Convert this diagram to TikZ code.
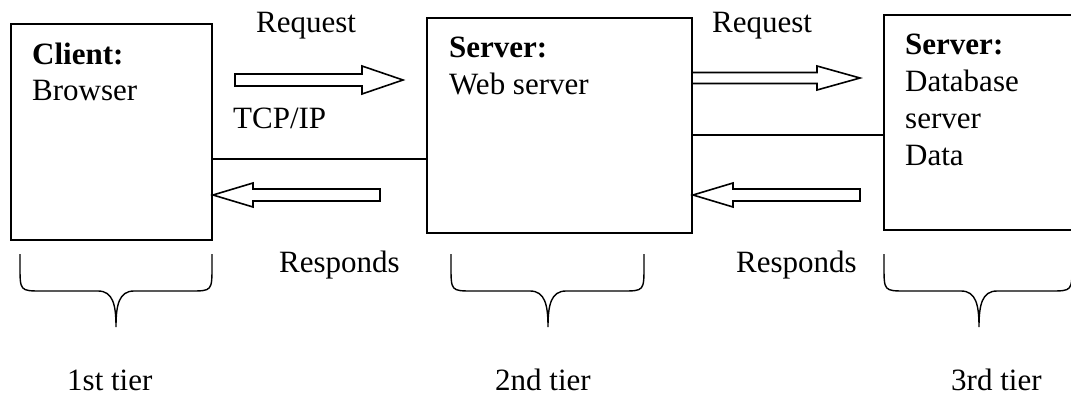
\documentclass[tikz,border=0pt]{standalone}
\usepackage{fontspec}
\setmainfont{Liberation Serif}
\begin{document}
\begin{tikzpicture}[x=1pt,y=-1pt,
  box/.style={draw,line width=1.6pt,inner sep=0pt},
  lbl/.style={anchor=base west,inner sep=0pt,font=\fontsize{31}{36}\selectfont},
  blbl/.style={lbl,font=\fontsize{31}{36}\selectfont\bfseries},
  hollow/.style={draw,line width=1.6pt,fill=white,line join=miter},
  link/.style={draw,line width=1.6pt},
  brace/.style={draw,line width=1.4pt}]
\useasboundingbox (0,0) rectangle (1071,396);
% boxes
\node[box,minimum width=201pt,minimum height=216pt] (client) at (111.5,132) {};
\node[box,minimum width=265pt,minimum height=215pt] (web) at (559.5,125.5) {};
\node[box,minimum width=196pt,minimum height=215pt] (db) at (982,122.5) {};
% box texts
\node[blbl] (c1) at (32,65) {Client:};
\node[lbl] (c2) at (32,100) {Browser};
\node[blbl] (w1) at (449,58) {Server:};
\node[lbl] (w2) at (449,95) {Web server};
\node[blbl] (d1) at (905,55) {Server:};
\node[lbl] (d2) at (905,92) {Database};
\node[lbl] (d3) at (905,128) {server};
\node[lbl] (d4) at (905,165) {Data};
% labels
\node[lbl] (req1) at (256,33) {Request};
\node[lbl] (req2) at (712,33) {Request};
\node[lbl] (tcp) at (233,128) {TCP/IP};
\node[lbl] (resp1) at (279,272) {Responds};
\node[lbl] (resp2) at (736,272) {Responds};
\node[lbl] (t1) at (67,390) {1st tier};
\node[lbl] (t2) at (495,390) {2nd tier};
\node[lbl] (t3) at (951,390) {3rd tier};
% connecting lines
\coordinate (l1) at (0,159);
\coordinate (l2) at (0,135);
\draw[link] (client.east |- l1) -- (web.west |- l1);
\draw[link] (web.east |- l2) -- (db.west |- l2);
% hollow arrows
\draw[hollow] (235,74) -- (362,74) -- (362,66) -- (403,80) -- (362,94) -- (362,86) -- (235,86) -- cycle;
\draw[hollow] (692,72.5) -- (817,72.5) -- (817,66) -- (860,78) -- (817,90) -- (817,83.5) -- (692,83.5) -- cycle;
\draw[hollow] (380,189) -- (253,189) -- (253,183) -- (213,195) -- (253,207) -- (253,201) -- (380,201) -- cycle;
\draw[hollow] (860,189) -- (733,189) -- (733,183) -- (693,195) -- (733,207) -- (733,201) -- (860,201) -- cycle;
% braces
\foreach \L/\X/\R in {20/116/212, 451/548/644, 884/979/1072}{
  \draw[brace] (\L,254) -- (\L,266) .. controls (\L,291) .. (\L+22,291)
     -- (\X-18,291) .. controls (\X-3,291) and (\X,305) .. (\X,327)
     .. controls (\X,305) and (\X+3,291) .. (\X+18,291)
     -- (\R-22,291) .. controls (\R,291) .. (\R,266) -- (\R,254);
}
\end{tikzpicture}
\end{document}
